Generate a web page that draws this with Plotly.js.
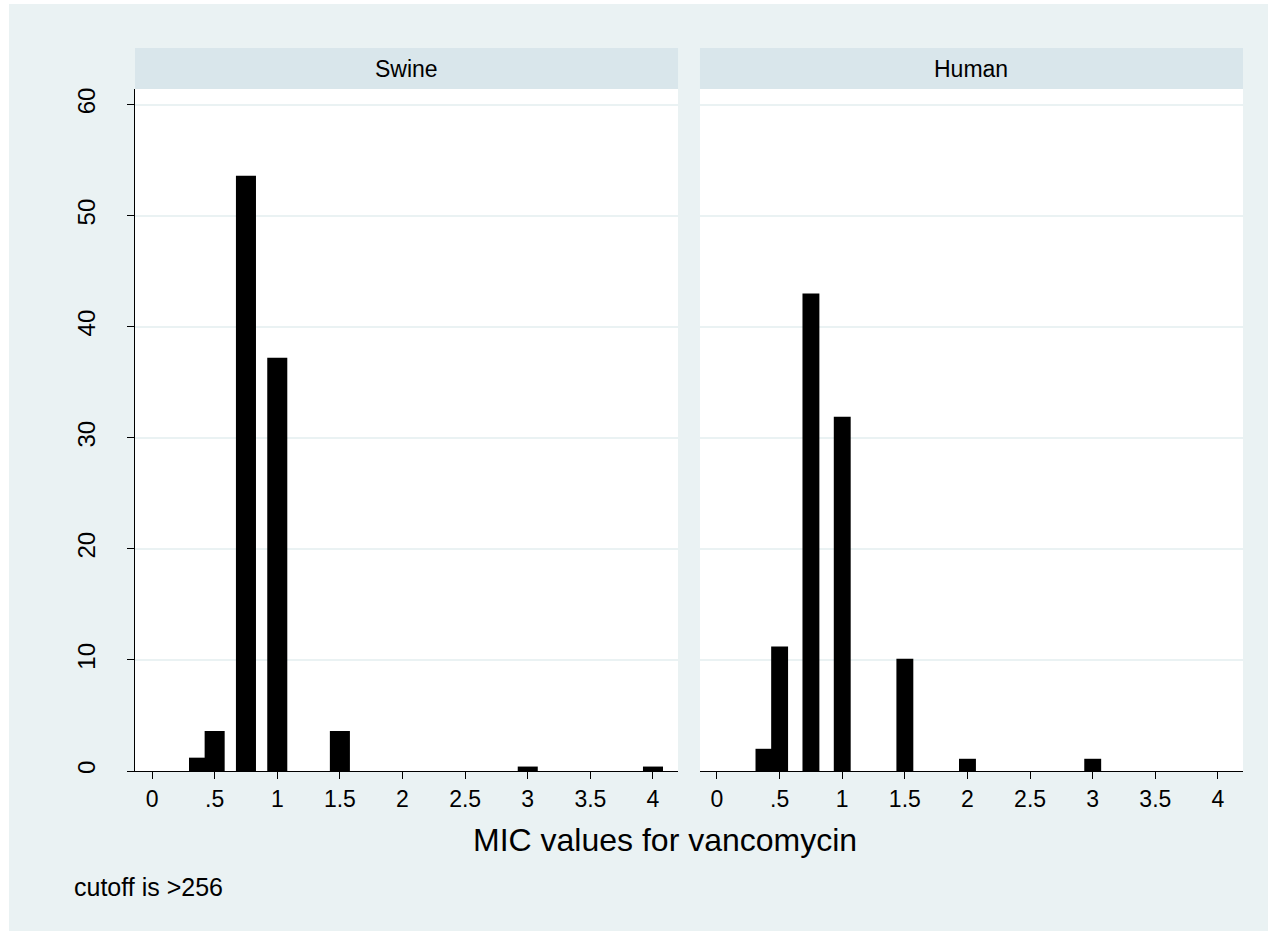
<!DOCTYPE html>
<html>
<head>
<meta charset="utf-8">
<script src="https://cdn.plot.ly/plotly-3.0.1.min.js"></script>
<style>
  html, body { margin: 0; padding: 0; background: #ffffff; width: 1268px; height: 931px; overflow: hidden; }
  #chart { position: absolute; left: 9px; top: 4px; width: 1259px; height: 927px; }
</style>
</head>
<body>
<div id="chart"></div>
<script>
// MIC values (x) and percent of isolates in each panel
const micValues = [0.375, 0.5, 0.75, 1, 1.5, 2, 3, 4];
const swinePercent = [1.2, 3.6, 53.6, 37.2, 3.6, 0, 0.4, 0.4];
const humanPercent = [2.0, 11.2, 43.0, 31.9, 10.1, 1.1, 1.1, 0];
const panelNames = ["Swine", "Human"];
const xTickValues = [0, 0.5, 1, 1.5, 2, 2.5, 3, 3.5, 4];
const xTickLabels = ["0", ".5", "1", "1.5", "2", "2.5", "3", "3.5", "4"];
const yTickValues = [0, 10, 20, 30, 40, 50, 60];
const xAxisTitle = "MIC values for vancomycin";
const noteText = "cutoff is >256";

const FONT = "Liberation Sans, Arial, sans-serif";
const BG = "#EAF2F3";
const STRIP = "#D9E6EB";
const GRID = "#EAF2F3";

const traces = [
  {
    type: "bar", x: micValues, y: swinePercent, xaxis: "x", yaxis: "y",
    width: 0.16, marker: { color: "#000000", line: { width: 0 } }, hoverinfo: "x+y"
  },
  {
    type: "bar", x: micValues, y: humanPercent, xaxis: "x2", yaxis: "y2",
    width: 0.135, marker: { color: "#000000", line: { width: 0 } }, hoverinfo: "x+y"
  }
];

const xCommon = {
  range: [-0.136, 4.2], tickmode: "array", tickvals: xTickValues, ticktext: xTickLabels,
  ticks: "outside", ticklen: 7, tickwidth: 1, tickcolor: "#000000",
  showline: true, linecolor: "#000000", linewidth: 1,
  showgrid: false, zeroline: false,
  tickfont: { family: FONT, size: 23, color: "#000000" }
};
const yCommon = {
  range: [0, 61.4], tickmode: "array", tickvals: yTickValues,
  showgrid: true, gridcolor: GRID, gridwidth: 2, zeroline: false
};

const layout = {
  width: 1259, height: 927,
  paper_bgcolor: BG, plot_bgcolor: "#ffffff",
  margin: { l: 126, r: 25, t: 85, b: 160 },
  showlegend: false,
  barmode: "overlay",
  xaxis: Object.assign({}, xCommon, { domain: [0, 0.4901], anchor: "y" }),
  xaxis2: Object.assign({}, xCommon, { domain: [0.5099, 1], anchor: "y2" }),
  yaxis: Object.assign({}, yCommon, {
    anchor: "x", showline: true, linecolor: "#000000", linewidth: 1,
    ticks: "outside", ticklen: 7, tickcolor: "#000000", tickangle: -90,
    ticklabelstandoff: 22,
    tickfont: { family: FONT, size: 24, color: "#000000" }
  }),
  yaxis2: Object.assign({}, yCommon, {
    anchor: "x2", matches: "y", showline: false, ticks: "", showticklabels: false
  }),
  shapes: [
    { type: "rect", xref: "paper", yref: "paper", x0: 0, x1: 0.4901, y0: 1, y1: 1.0601,
      fillcolor: STRIP, line: { width: 0 }, layer: "below" },
    { type: "rect", xref: "paper", yref: "paper", x0: 0.5099, x1: 1, y0: 1, y1: 1.0601,
      fillcolor: STRIP, line: { width: 0 }, layer: "below" }
  ],
  annotations: [
    { text: panelNames[0], xref: "paper", yref: "paper", x: 0.24505, y: 1.03, xanchor: "center", yanchor: "middle",
      showarrow: false, font: { family: FONT, size: 23, color: "#000000" } },
    { text: panelNames[1], xref: "paper", yref: "paper", x: 0.75495, y: 1.03, xanchor: "center", yanchor: "middle",
      showarrow: false, font: { family: FONT, size: 23, color: "#000000" } },
    { text: xAxisTitle, xref: "paper", yref: "paper", x: 0.478, y: -0.101, xanchor: "center", yanchor: "middle",
      showarrow: false, font: { family: FONT, size: 32, color: "#000000" } },
    { text: noteText, xref: "paper", yref: "paper", x: -0.0569, y: -0.170, xanchor: "left", yanchor: "middle",
      showarrow: false, font: { family: FONT, size: 25, color: "#000000" } }
  ]
};

Plotly.newPlot("chart", traces, layout, { displayModeBar: false, staticPlot: true });
</script>
</body>
</html>
